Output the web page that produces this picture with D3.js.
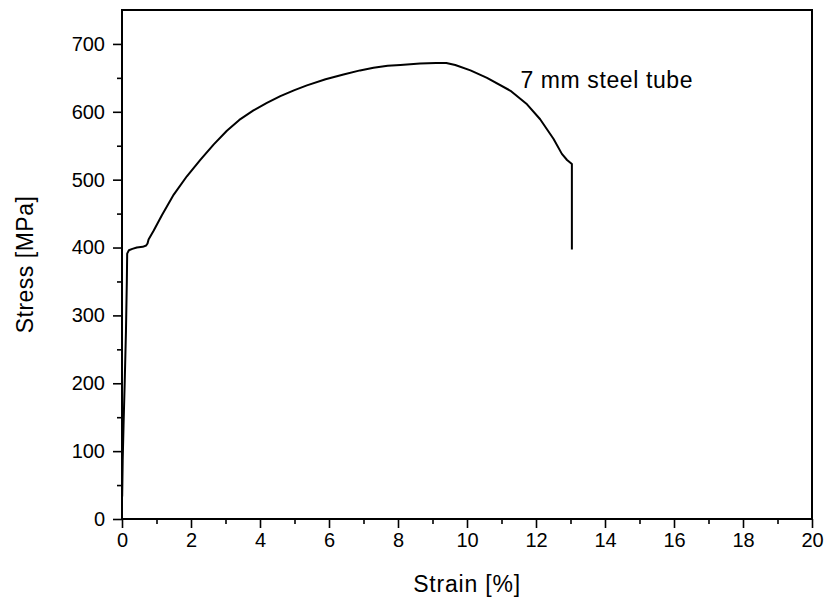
<!DOCTYPE html>
<html>
<head>
<meta charset="utf-8">
<script src="https://cdn.jsdelivr.net/npm/d3@7"></script>
<style>
  body { margin: 0; background: #fff; }
  text { font-family: "Liberation Sans", Arial, sans-serif; fill: #000; }
</style>
</head>
<body>
<div id="chart"></div>
<script>
// strain [%] and stress [MPa]
var strain = [0.005, 0.02, 0.045, 0.08, 0.115, 0.14, 0.15, 0.2, 0.3, 0.43, 0.6, 0.7, 0.74, 0.77, 0.92,
  1.16, 1.5, 1.88, 2.27, 2.66, 3.04, 3.4, 3.81, 4.2, 4.59, 5.0, 5.36, 5.9, 6.42, 6.9, 7.29, 7.7, 8.07,
  8.64, 9.1, 9.4, 9.66, 10.1, 10.58, 11.26, 11.74, 12.12, 12.51, 12.75, 12.9, 13.04, 13.04];
var stress = [33, 86, 138, 204, 277, 350, 391, 396, 398, 400, 401, 403, 406, 412, 425,
  448, 478, 505, 529, 552, 572, 588, 602, 613, 623, 632, 639, 648, 655, 661, 665, 668, 669,
  671, 672, 672, 669, 661, 650, 631, 611, 589, 560, 538, 529, 523, 397];

var xTicks = [0, 2, 4, 6, 8, 10, 12, 14, 16, 18, 20];
var yTicks = [0, 100, 200, 300, 400, 500, 600, 700];
var curveLabel = "7 mm steel tube";

var svgWidth = 827, svgHeight = 600;
var margin = { left: 122, right: 15, top: 10, bottom: 81 };
var width = svgWidth - margin.left - margin.right,
    height = svgHeight - margin.top - margin.bottom;

var svg = d3.select("#chart").append("svg")
  .attr("width", svgWidth)
  .attr("height", svgHeight);

var chartGroup = svg.append("g")
  .attr("transform", `translate(${margin.left}, ${margin.top})`);

var xScale = d3.scaleLinear().domain([0, 20]).range([0, width]);
var yScale = d3.scaleLinear().domain([0, 750]).range([height, 0]);

// minor ticks first
chartGroup.append("g")
  .attr("transform", `translate(0, ${height})`)
  .call(d3.axisBottom(xScale).tickValues(d3.range(1, 20, 2)).tickSize(5).tickFormat(""))
  .call(g => g.select(".domain").remove());
chartGroup.append("g")
  .call(d3.axisLeft(yScale).tickValues(d3.range(50, 750, 100)).tickSize(5).tickFormat(""))
  .call(g => g.select(".domain").remove());

var xAxis = chartGroup.append("g")
  .attr("transform", `translate(0, ${height})`)
  .call(d3.axisBottom(xScale).tickValues(xTicks).tickSize(9).tickPadding(5).tickFormat(d3.format("d")));
var yAxis = chartGroup.append("g")
  .call(d3.axisLeft(yScale).tickValues(yTicks).tickSize(9).tickPadding(8).tickFormat(d3.format("d")));

chartGroup.selectAll(".tick line").attr("stroke", "#000").attr("stroke-width", 1.6);
chartGroup.selectAll(".tick text").style("font-size", "20px").attr("fill", "#000");
chartGroup.selectAll(".domain").remove();

// frame
chartGroup.append("rect")
  .attr("x", 0).attr("y", 0)
  .attr("width", width).attr("height", height)
  .attr("fill", "none")
  .attr("stroke", "#000")
  .attr("stroke-width", 2);

var points = strain.map((s, i) => [s, stress[i]]);
var line = d3.line()
  .x(d => xScale(d[0]))
  .y(d => yScale(d[1]));

chartGroup.append("path")
  .datum(points)
  .attr("d", line)
  .attr("fill", "none")
  .attr("stroke", "#000")
  .attr("stroke-width", 2)
  .attr("stroke-linejoin", "round");

chartGroup.append("text")
  .attr("x", xScale(11.55))
  .attr("y", yScale(635))
  .style("font-size", "23px")
  .style("letter-spacing", "0.6px")
  .text(curveLabel);

// axis titles
svg.append("text")
  .attr("transform", `translate(33, ${margin.top + height / 2}) rotate(-90)`)
  .attr("text-anchor", "middle")
  .style("font-size", "23px")
  .style("letter-spacing", "0.5px")
  .text("Stress [MPa]");

svg.append("text")
  .attr("x", margin.left + width / 2)
  .attr("y", 592)
  .attr("text-anchor", "middle")
  .style("font-size", "23px")
  .style("letter-spacing", "0.8px")
  .text("Strain [%]");
</script>
</body>
</html>
